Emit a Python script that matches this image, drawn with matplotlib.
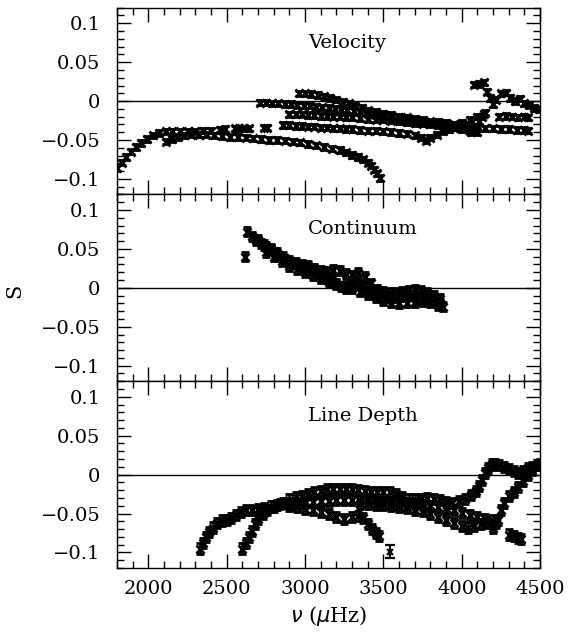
import numpy as np
import matplotlib
matplotlib.use("Agg")
import matplotlib.pyplot as plt
from matplotlib.ticker import MultipleLocator, FixedLocator

# ---------------- Data ----------------
# Velocity panel
vel_a_x = [1800, 1830, 1860, 1890, 1920, 1950, 1990, 2030, 2070, 2110, 2150, 2200,
           2250, 2300, 2350, 2400, 2460, 2490, 2550, 2580, 2610, 2640, 2740, 2760]
vel_a_y = [-0.086, -0.079, -0.072, -0.065, -0.059, -0.054, -0.049, -0.044, -0.041,
           -0.039, -0.039, -0.039, -0.039, -0.039, -0.038, -0.038, -0.037, -0.036,
           -0.035, -0.035, -0.035, -0.035, -0.034, -0.034]

vel_b_x = [2110, 2150, 2190, 2230, 2270, 2320, 2370, 2420, 2470, 2520, 2570, 2620,
           2670, 2720, 2770, 2820, 2870, 2920, 2970, 3020, 3070, 3120, 3170, 3220,
           3260, 3300, 3340, 3370, 3400, 3420, 3440, 3460, 3480]
vel_b_y = [-0.052, -0.049, -0.046, -0.044, -0.043, -0.043, -0.043, -0.044, -0.045,
           -0.046, -0.046, -0.047, -0.048, -0.049, -0.050, -0.050, -0.051, -0.052,
           -0.053, -0.055, -0.057, -0.059, -0.061, -0.063, -0.066, -0.069, -0.072,
           -0.075, -0.079, -0.083, -0.088, -0.093, -0.099]

vel_c_x = [2960, 3000, 3040, 3080, 3120, 3160, 3200, 3240, 3280, 3320, 3360, 3400,
           3450, 3500, 3550, 3600, 3650, 3700, 3750, 3800, 3850, 3900, 3950, 4000]
vel_c_y = [0.010, 0.010, 0.009, 0.008, 0.006, 0.004, 0.002, -0.001, -0.003, -0.006,
           -0.009, -0.012, -0.014, -0.016, -0.018, -0.020, -0.021, -0.023, -0.024,
           -0.026, -0.027, -0.028, -0.030, -0.031]

vel_d_x = [2710, 2750, 2790, 2830, 2870, 2910, 2950, 2990, 3030, 3070, 3110, 3150,
           3190, 3230, 3270, 3310, 3350, 3400, 3450, 3500, 3550, 3600, 3650, 3700,
           3750, 3800, 3850, 3900, 3950, 4000, 4050, 4100]
vel_d_y = [-0.002, -0.002, -0.003, -0.003, -0.004, -0.004, -0.005, -0.006, -0.006,
           -0.007, -0.008, -0.009, -0.010, -0.011, -0.012, -0.013, -0.014, -0.016,
           -0.018, -0.019, -0.021, -0.022, -0.024, -0.025, -0.027, -0.028, -0.030,
           -0.032, -0.034, -0.036, -0.038, -0.040]

vel_e_x = [2900, 2940, 2980, 3020, 3060, 3100, 3140, 3180, 3220, 3260, 3300, 3350,
           3400, 3450, 3500, 3550, 3600, 3650, 3700, 3750, 3800, 3850, 3900, 3950,
           4000, 4050, 4100, 4140]
vel_e_y = [-0.017, -0.017, -0.017, -0.018, -0.018, -0.019, -0.019, -0.020, -0.020,
           -0.021, -0.021, -0.022, -0.023, -0.024, -0.024, -0.025, -0.026, -0.027,
           -0.028, -0.029, -0.030, -0.031, -0.032, -0.031, -0.028, -0.024, -0.020,
           -0.016]

vel_f_x = [4240, 4280, 4320, 4360, 4400, 4420]
vel_f_y = [-0.020, -0.019, -0.020, -0.021, -0.020, -0.021]

vel_g_x = [2860, 2900, 2940, 2980, 3020, 3060, 3100, 3140, 3180, 3220, 3260, 3300,
           3350, 3400, 3450, 3500, 3550, 3600, 3650, 3700, 3740, 3770, 3800, 3840,
           3880, 3920]
vel_g_y = [-0.031, -0.031, -0.032, -0.032, -0.033, -0.033, -0.034, -0.034, -0.035,
           -0.035, -0.036, -0.036, -0.037, -0.038, -0.038, -0.039, -0.040, -0.041,
           -0.042, -0.044, -0.047, -0.051, -0.047, -0.043, -0.039, -0.036]

vel_h_x = [3950, 4000, 4050, 4100, 4150, 4200, 4250, 4300, 4350, 4400, 4420]
vel_h_y = [-0.034, -0.034, -0.034, -0.035, -0.035, -0.035, -0.036, -0.036, -0.037,
           -0.037, -0.038]

vel_i_x = [4060, 4090, 4110, 4130, 4150]
vel_i_y = [-0.040, -0.033, -0.026, -0.020, -0.015]

vel_j_x = [4080, 4110, 4140, 4160, 4180, 4200, 4220, 4250, 4280, 4310, 4340, 4370,
           4400, 4430, 4460, 4490]
vel_j_y = [0.021, 0.022, 0.024, 0.012, 0.004, -0.004, 0.002, 0.010, 0.011, 0.004,
           0.000, 0.003, -0.003, -0.005, -0.009, -0.010]

# Continuum panel
con_a_x = [2630, 2660, 2690, 2720, 2750, 2780, 2810, 2840, 2870, 2900, 2930, 2960,
           2990, 3020, 3050, 3080, 3110, 3140, 3170, 3200, 3230, 3260, 3290, 3320,
           3350, 3380, 3410, 3440, 3470, 3500, 3540, 3580, 3620, 3660, 3700, 3740,
           3780, 3820, 3860]
con_a_y = [0.072, 0.066, 0.061, 0.057, 0.053, 0.049, 0.045, 0.040, 0.036, 0.033,
           0.031, 0.029, 0.027, 0.024, 0.021, 0.018, 0.015, 0.012, 0.009, 0.006,
           0.002, -0.001, 0.003, 0.006, 0.004, 0.000, -0.004, -0.007, -0.009, -0.011,
           -0.012, -0.012, -0.011, -0.010, -0.011, -0.013, -0.014, -0.016, -0.020]

con_b_x = [2700, 2740, 2780, 2820, 2860, 2900, 2940, 2980, 3020, 3060, 3100, 3140,
           3180, 3220, 3260, 3300, 3340, 3380, 3420, 3460, 3500, 3540, 3580, 3620,
           3660, 3700, 3740, 3780, 3820, 3860]
con_b_y = [0.062, 0.055, 0.050, 0.045, 0.040, 0.035, 0.032, 0.030, 0.028, 0.025,
           0.022, 0.021, 0.023, 0.022, 0.018, 0.016, 0.019, 0.014, 0.006, -0.002,
           -0.005, -0.006, -0.006, -0.005, -0.003, -0.002, -0.004, -0.006, -0.010,
           -0.014]

con_c_x = [2750, 2800, 2850, 2900, 2950, 3000, 3050, 3100, 3150, 3200, 3250, 3300,
           3350, 3400, 3450, 3500, 3550, 3600, 3650, 3700, 3750, 3800, 3850, 3880]
con_c_y = [0.046, 0.040, 0.034, 0.028, 0.024, 0.020, 0.016, 0.012, 0.008, 0.004,
           0.002, 0.000, -0.005, -0.008, -0.012, -0.016, -0.019, -0.020, -0.019,
           -0.018, -0.017, -0.019, -0.022, -0.024]

con_iso_x = [2615]
con_iso_y = [0.040]

# Line depth panel
ld_a_x = [2330, 2350, 2370, 2390, 2410, 2440, 2470, 2500, 2530, 2560, 2590, 2620,
          2660, 2700, 2740, 2780, 2820, 2860, 2900, 2940, 2980, 3020, 3060, 3100,
          3140, 3180, 3220, 3260, 3300, 3340]
ld_a_y = [-0.095, -0.088, -0.080, -0.074, -0.068, -0.062, -0.059, -0.058, -0.056,
          -0.052, -0.048, -0.046, -0.045, -0.044, -0.043, -0.041, -0.039, -0.036,
          -0.032, -0.029, -0.027, -0.025, -0.023, -0.021, -0.019, -0.018, -0.018,
          -0.018, -0.019, -0.020]

ld_b_x = [3380, 3420, 3460, 3500, 3540, 3580, 3620, 3660, 3700, 3740, 3780, 3820,
          3860, 3900, 3940, 3980, 4020, 4060, 4090, 4110, 4130, 4150, 4170, 4190,
          4210, 4240, 4270, 4300, 4330, 4360, 4390, 4420, 4450, 4480, 4500]
ld_b_y = [-0.021, -0.022, -0.023, -0.022, -0.022, -0.025, -0.029, -0.032, -0.032,
          -0.031, -0.030, -0.031, -0.033, -0.035, -0.036, -0.034, -0.031, -0.026,
          -0.021, -0.015, -0.007, 0.002, 0.009, 0.013, 0.014, 0.012, 0.010, 0.007,
          0.005, 0.002, 0.004, 0.008, 0.010, 0.012, 0.013]

ld_c_x = [2600, 2620, 2640, 2660, 2680, 2700, 2730, 2760, 2800, 2840, 2880, 2920,
          2960, 3000, 3050, 3100, 3150, 3200, 3250, 3300, 3350, 3400, 3450, 3500,
          3550, 3600, 3650, 3700, 3750, 3800, 3850, 3900, 3950, 4000, 4050, 4100,
          4150, 4200, 4220]
ld_c_y = [-0.095, -0.088, -0.080, -0.072, -0.064, -0.057, -0.050, -0.045, -0.041,
          -0.038, -0.037, -0.036, -0.036, -0.036, -0.035, -0.034, -0.034, -0.033,
          -0.033, -0.033, -0.033, -0.033, -0.034, -0.035, -0.035, -0.036, -0.037,
          -0.038, -0.039, -0.040, -0.041, -0.043, -0.046, -0.049, -0.052, -0.054,
          -0.057, -0.059, -0.062]

ld_d_x = [2900, 2950, 3000, 3050, 3100, 3150, 3200, 3250, 3300, 3340, 3370, 3400,
          3430, 3450, 3470]
ld_d_y = [-0.040, -0.042, -0.044, -0.046, -0.048, -0.051, -0.055, -0.057, -0.055,
          -0.053, -0.056, -0.063, -0.070, -0.075, -0.079]

ld_e_x = [3350, 3400, 3450, 3500, 3550, 3600, 3650, 3700, 3750, 3800, 3850, 3900,
          3950, 4000, 4040, 4080, 4120, 4160, 4200, 4230, 4250, 4270, 4300, 4330,
          4360, 4390, 4420, 4450]
ld_e_y = [-0.038, -0.038, -0.039, -0.039, -0.040, -0.041, -0.043, -0.045, -0.047,
          -0.050, -0.054, -0.058, -0.062, -0.066, -0.068, -0.066, -0.063, -0.062,
          -0.068, -0.058, -0.046, -0.036, -0.028, -0.022, -0.016, -0.008, 0.000,
          0.006]

ld_f_x = [4300, 4330, 4360, 4380]
ld_f_y = [-0.077, -0.079, -0.081, -0.083]

ld_iso_x = [3545]
ld_iso_y = [-0.099]

panel_titles = ["Velocity", "Continuum", "Line Depth"]
x_ticks = [2000, 2500, 3000, 3500, 4000, 4500]
y_ticks = [-0.1, -0.05, 0, 0.05, 0.1]
y_tick_labels = ["\u22120.1", "\u22120.05", "0", "0.05", "0.1"]

# ---------------- Plot ----------------
plt.rcParams['font.family'] = ['DejaVu Serif']

fig = plt.figure(figsize=(5.68, 6.32), dpi=100)
left, width, h = 0.206, 0.745, 0.2955
bottoms = [0.6923, 0.3968, 0.1013]
axes = [fig.add_axes([left, b, width, h]) for b in bottoms]

panels = [
    ([(vel_a_x, vel_a_y), (vel_b_x, vel_b_y), (vel_c_x, vel_c_y), (vel_d_x, vel_d_y),
      (vel_e_x, vel_e_y), (vel_f_x, vel_f_y), (vel_g_x, vel_g_y), (vel_h_x, vel_h_y),
      (vel_i_x, vel_i_y), (vel_j_x, vel_j_y)], 0.0035, 5.5),
    ([(con_a_x, con_a_y), (con_b_x, con_b_y), (con_c_x, con_c_y),
      (con_iso_x, con_iso_y)], 0.006, 6.0),
    ([(ld_a_x, ld_a_y), (ld_b_x, ld_b_y), (ld_c_x, ld_c_y), (ld_d_x, ld_d_y),
      (ld_e_x, ld_e_y), (ld_f_x, ld_f_y)], 0.0065, 6.0),
]

for ax, (series, err, ms), title in zip(axes, panels, panel_titles):
    ax.axhline(0, color='black', lw=1.0, zorder=1)
    for xs, ys in series:
        ax.errorbar(xs, ys, yerr=err, fmt='x', color='black', ms=ms, mew=2.0,
                    elinewidth=1.8, capsize=3.2, capthick=1.5, zorder=2)
    ax.set_xlim(1800, 4500)
    ax.set_ylim(-0.12, 0.12)
    ax.xaxis.set_major_locator(FixedLocator(x_ticks))
    ax.xaxis.set_minor_locator(MultipleLocator(100))
    ax.yaxis.set_major_locator(FixedLocator(y_ticks))
    ax.yaxis.set_minor_locator(MultipleLocator(0.01))
    ax.set_yticklabels(y_tick_labels)
    ax.tick_params(which='both', direction='in', top=True, right=True,
                   width=1.0, labelsize=14)
    ax.tick_params(which='major', length=10)
    ax.tick_params(which='minor', length=5)
    ax.tick_params(axis='y', pad=12)
    ax.tick_params(axis='x', pad=9)
    for sp in ax.spines.values():
        sp.set_linewidth(1.0)
    ax.text(3020, 0.075, title, ha='left', va='center', fontsize=14)

axes[2].errorbar(ld_iso_x, ld_iso_y, yerr=0.008, fmt='x', color='black', ms=5,
                 mew=1.6, elinewidth=1.4, capsize=3.5, capthick=1.4)

for ax in axes[:2]:
    ax.tick_params(axis='x', labelbottom=False)

axes[2].set_xlabel(r'$\nu$ ($\mu$Hz)', fontsize=15, labelpad=4)
fig.text(15 / 568, 0.54, 'S', rotation=90, ha='center', va='center', fontsize=15)

fig.savefig('out.png', dpi=100)
